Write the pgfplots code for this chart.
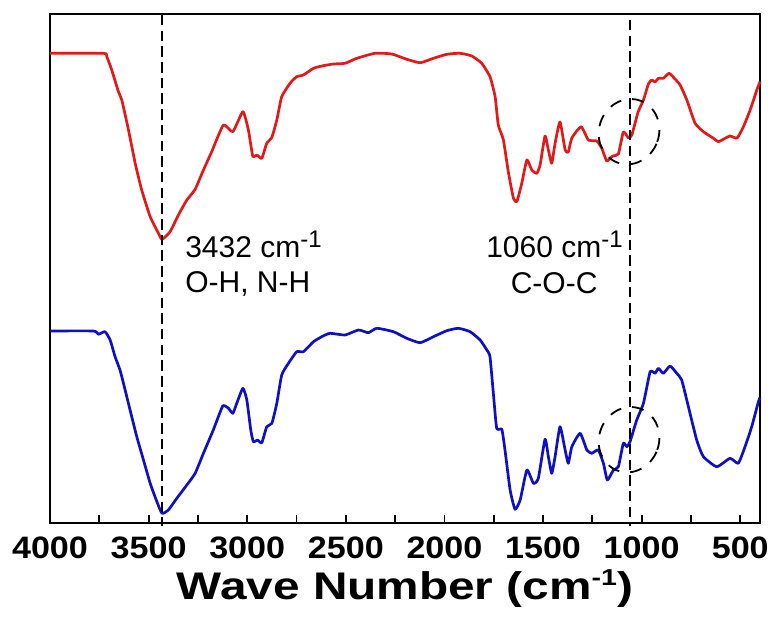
\documentclass[border=0pt]{standalone}
\usepackage{fontspec}
\setmainfont{Liberation Sans}
\usepackage{graphicx}
\usepackage{pgfplots}
\pgfplotsset{compat=1.18}
\definecolor{ftirred}{RGB}{225,25,25}
\definecolor{ftirblue}{RGB}{15,15,195}
\newcommand\tl[1]{\scalebox{1.1}[1]{#1}}
\begin{document}
\begin{tikzpicture}
\useasboundingbox (0,0) rectangle (774bp,621bp);
\begin{axis}[
  at={(50bp,98.3bp)}, anchor=south west,
  scale only axis, width=710bp, height=508.7bp,
  xmin=400, xmax=4000, ymin=0, ymax=508.7,
  x dir=reverse,
  clip=false,
  axis line style={line width=2bp, black},
  ytick=\empty,
  xtick={4000,3500,3000,2500,2000,1500,1000,500},
  xticklabels={\tl{4000},\tl{3500},\tl{3000},\tl{2500},\tl{2000},\tl{1500},\tl{1000},\tl{500}},
  minor x tick num=1,
  xtick pos=left,
  tick align=inside,
  major tick length=8bp, minor tick length=8bp,
  tick style={line width=1.8bp, black},
  xticklabel style={font=\fontsize{31bp}{31bp}\selectfont\bfseries, inner sep=0pt, anchor=north, yshift=-14.3bp},
  xlabel={\scalebox{1.24}[1]{Wave Number (cm\raisebox{14bp}{\fontsize{23bp}{23bp}\selectfont -1})}},
  xlabel style={font=\fontsize{38.5bp}{38.5bp}\selectfont\bfseries, at={(axis description cs:0.5,0)}, anchor=base, inner sep=0pt, yshift=-76.6bp},
]
\addplot[ftirred, line width=2.7bp, smooth, tension=0.3, line join=round] coordinates {
(4000,469.4)(3729,469.4)(3712,466)(3687,452.7)(3653,431)(3636,422.7)(3602,392.7)(3568,359.4)(3535,332.7)(3492,306)(3450,289.4)(3432,283.4)(3391,291)(3349,307.7)(3306,322.7)(3264,333.4)(3222,352.7)(3180,371)(3121,397.7)(3073,391)(3022,411)(2994,392.7)(2972,366.7)(2951,367.7)(2926,364.4)(2901,379.4)(2875,385.4)(2850,402.7)(2825,426)(2783,439.4)(2749,446)(2715,447.7)(2664,454.4)(2614,457)(2563,458.7)(2504,459.4)(2444,464.4)(2352,469.4)(2267,468.7)(2191,463.4)(2123,460)(2056,464.4)(1988,468.4)(1921,469.4)(1861,466.7)(1811,459.4)(1769,446)(1743,426)(1727,397.7)(1701,382.7)(1676,350.7)(1650,324.4)(1633,321)(1608,339.4)(1582,362.7)(1557,352.7)(1532,349.4)(1515,357.7)(1490,386.7)(1473,372.7)(1456,359.4)(1439,379.4)(1414,400.7)(1388,372.7)(1372,370.7)(1354,384.7)(1307,396)(1270,382.7)(1228,381.7)(1202,374.4)(1177,361.7)(1147,366.7)(1118,368.7)(1093,390.7)(1067,384.7)(1050,387.7)(1018,410.7)(991,422.7)(966,438.7)(949,442.7)(932,440.7)(915,444.4)(890,444.4)(861,449.4)(831,443.7)(805,437.7)(771,422.7)(729,399.4)(687,391)(636,384.4)(611,381)(577,384.4)(552,386.7)(516,384.7)(484,396)(450,412.7)(416,432.7)(400,441)
};
\addplot[ftirblue, line width=2.7bp, smooth, tension=0.3, line join=round] coordinates {
(4000,191.7)(3780,191.7)(3755,188.4)(3721,191)(3695,182.7)(3670,166)(3645,152.7)(3619,132.7)(3594,112.7)(3560,86)(3526,62.7)(3492,39.4)(3458,21)(3432,9.4)(3400,12.7)(3357,24.4)(3306,37.7)(3264,49.4)(3222,69.4)(3172,92.7)(3124,116.7)(3095,114.4)(3073,109.4)(3053,119.4)(3022,134.4)(3002,122.7)(2982,92.7)(2969,81)(2948,82.7)(2926,80)(2901,96)(2875,99.4)(2850,119.4)(2825,147.7)(2791,159.4)(2749,171)(2715,171)(2664,181)(2622,186)(2580,189.4)(2504,187.7)(2436,192.7)(2386,190)(2343,194.4)(2259,191)(2191,184.4)(2123,180)(2056,186)(1988,192)(1929,194.4)(1870,191)(1819,182.7)(1785,172.7)(1769,166)(1752,129.4)(1735,94.4)(1709,93.4)(1693,72.7)(1667,32.7)(1642,13.4)(1616,22.7)(1582,52.7)(1549,39.4)(1524,44.4)(1490,83.4)(1473,66)(1456,49.4)(1439,66)(1414,96)(1388,72.7)(1372,59.4)(1354,76)(1312,89.4)(1278,72.7)(1253,69.4)(1220,72.7)(1194,59.4)(1174,42.7)(1143,52.7)(1118,56)(1093,79.4)(1075,76)(1059,81)(1025,102.7)(991,119.4)(957,151)(932,149.4)(915,154.4)(890,149.4)(856,156.7)(822,149.4)(797,142.7)(763,116)(721,82.7)(687,66)(619,56)(552,64.4)(510,59.4)(476,76)(442,96)(408,121)(400,125)
};
\draw[black, line width=2.5bp, dash pattern=on 10.5bp off 5.2bp] (axis cs:3432,507.7) -- (axis cs:3432,-3);
\draw[black, line width=2.5bp, dash pattern=on 10.5bp off 5.2bp] (axis cs:1060,502.7) -- (axis cs:1060,-3);
\draw[black, line width=1.8bp, dash pattern=on 12bp off 11bp, rotate around={-20:(axis cs:1064,391)}] (axis cs:1064,391) ellipse [x radius=30bp, y radius=33bp];
\draw[black, line width=1.8bp, dash pattern=on 12bp off 11bp, rotate around={-20:(axis cs:1064,83)}] (axis cs:1064,83) ellipse [x radius=30bp, y radius=33bp];
\node[anchor=base west, inner sep=0pt, font=\fontsize{30bp}{30bp}\selectfont] at (axis cs:3315,265.2) {3432 cm\raisebox{10bp}{\fontsize{24bp}{24bp}\selectfont -1}};
\node[anchor=base west, inner sep=0pt, font=\fontsize{30bp}{30bp}\selectfont] at (axis cs:3315,229.7) {O-H, N-H};
\node[anchor=base west, inner sep=0pt, font=\fontsize{30bp}{30bp}\selectfont] at (axis cs:1789,265.2) {1060 cm\raisebox{10bp}{\fontsize{24bp}{24bp}\selectfont -1}};
\node[anchor=base, inner sep=0pt, font=\fontsize{30bp}{30bp}\selectfont] at (axis cs:1444,229.4) {C-O-C};
\end{axis}
\end{tikzpicture}
\end{document}
